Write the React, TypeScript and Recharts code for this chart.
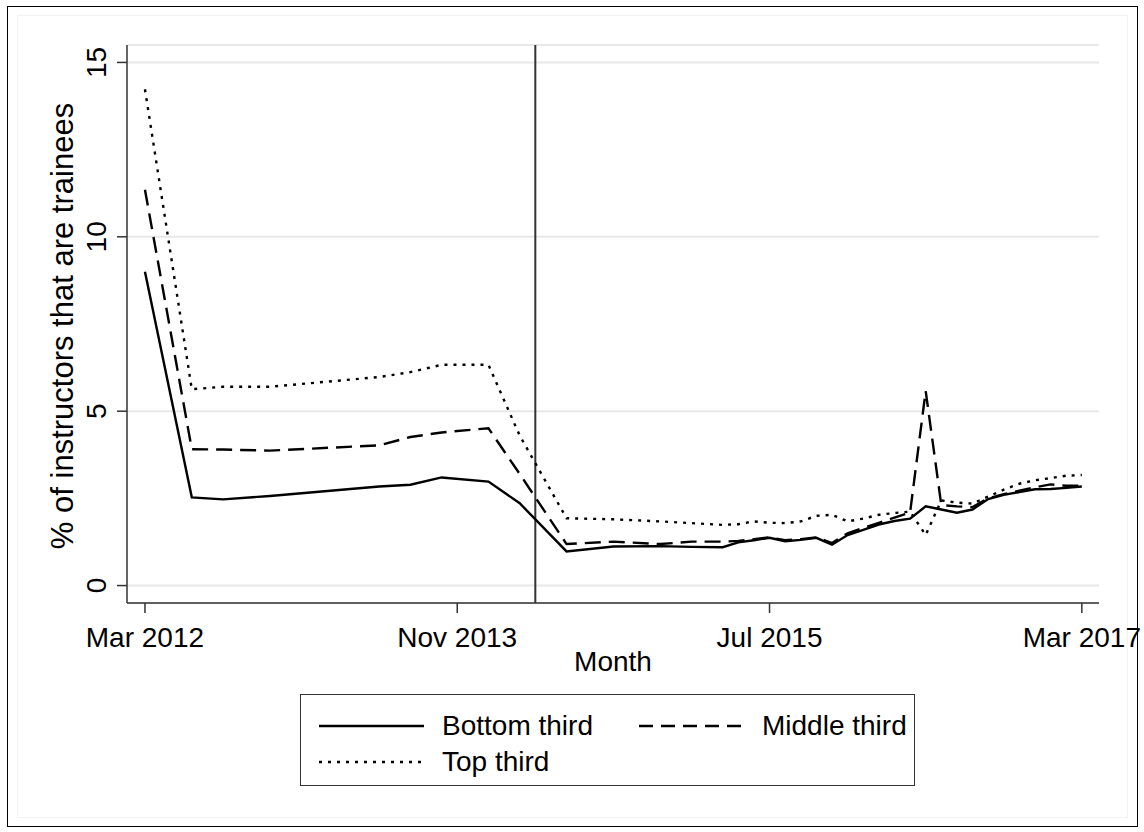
import { LineChart, Line, XAxis, YAxis, CartesianGrid, ReferenceLine } from 'recharts';

// months since Mar 2012 (only months with observations)
const months = [0, 3, 5, 8, 15, 17, 19, 22, 24, 27, 30, 33, 35, 37, 38, 39, 40, 41, 42, 43, 44, 45, 46, 47, 48, 49, 50, 51, 52, 53, 54, 55, 56, 57, 58, 59, 60];

const bottomThird = [9.0, 2.53, 2.47, 2.57, 2.84, 2.89, 3.1, 2.98, 2.36, 0.98, 1.12, 1.13, 1.11, 1.1, 1.24, 1.3, 1.37, 1.27, 1.31, 1.37, 1.17, 1.45, 1.6, 1.75, 1.85, 1.92, 2.27, 2.18, 2.09, 2.18, 2.48, 2.6, 2.68, 2.76, 2.77, 2.8, 2.84];
const middleThird = [11.35, 3.91, 3.9, 3.87, 4.02, 4.26, 4.39, 4.51, 3.2, 1.19, 1.26, 1.19, 1.26, 1.26, 1.28, 1.33, 1.38, 1.3, 1.33, 1.38, 1.22, 1.5, 1.65, 1.8, 1.95, 2.09, 5.58, 2.31, 2.27, 2.25, 2.5, 2.62, 2.72, 2.82, 2.9, 2.86, 2.86];
const topThird = [14.23, 5.63, 5.7, 5.7, 5.98, 6.12, 6.33, 6.33, 4.3, 1.93, 1.9, 1.84, 1.79, 1.74, 1.76, 1.84, 1.8, 1.79, 1.84, 2.0, 2.03, 1.84, 1.92, 2.03, 2.08, 2.12, 1.45, 2.44, 2.38, 2.35, 2.55, 2.75, 2.92, 3.02, 3.08, 3.15, 3.17];

const xTicks = [0, 20, 40, 60];
const xTickLabels = ['Mar 2012', 'Nov 2013', 'Jul 2015', 'Mar 2017'];
const yTicks = [0, 5, 10, 15];
const policyMonth = 25;

const data = months.map((m, i) => ({
  m,
  bottom: bottomThird[i],
  middle: middleThird[i],
  top: topThird[i],
}));

const FONT = 'Liberation Sans, Arial, sans-serif';
const FS = 28;
const AXIS = '#333';

const XTick = ({ x, y, payload }: any) => (
  <text x={x} y={y} dy={32} textAnchor="middle" fontFamily={FONT} fontSize={FS} fill="#000">
    {xTickLabels[xTicks.indexOf(payload.value)]}
  </text>
);

const YTick = ({ y, payload }: any) => (
  <text
    transform={`translate(106, ${y}) rotate(-90)`}
    textAnchor="middle"
    fontFamily={FONT}
    fontSize={FS}
    fill="#000"
  >
    {payload.value}
  </text>
);

const legendItems = [
  { label: 'Bottom third', dash: undefined },
  { label: 'Middle third', dash: '14 8' },
  { label: 'Top third', dash: '3 6' },
];

// legend sits under the plot, outside the recharts svg
const LegendBox = () => (
  <div
    style={{
      position: 'absolute',
      left: 300,
      top: 694,
      width: 615,
      height: 92,
      border: '1.5px solid #333',
      boxSizing: 'border-box',
      background: '#fff',
      fontFamily: FONT,
      fontSize: FS,
    }}
  >
    {legendItems.map((it, i) => {
      const col = i % 2;
      const row = Math.floor(i / 2);
      return (
        <div
          key={it.label}
          style={{ position: 'absolute', left: 18 + col * 320, top: 16 + row * 36, height: 30, display: 'flex', alignItems: 'center' }}
        >
          <svg width={105} height={10}>
            <line x1={0} y1={5} x2={105} y2={5} stroke="#000" strokeWidth={2.5} strokeDasharray={it.dash} />
          </svg>
          <span style={{ marginLeft: 18, lineHeight: '30px', whiteSpace: 'nowrap' }}>{it.label}</span>
        </div>
      );
    })}
  </div>
);

export default function App() {
  return (
    <div style={{ position: 'absolute', left: 0, top: 0, width: 1144, height: 832, background: '#fff' }}>
      <div style={{ position: 'absolute', left: 7, top: 6, width: 1131, height: 821, border: '1.5px solid #000', boxSizing: 'border-box' }} />
      <div style={{ position: 'absolute', left: 17, top: 15, width: 1111, height: 803, border: '1px solid #f2f2f2', boxSizing: 'border-box' }} />
      <div style={{ position: 'absolute', left: 0, top: 0 }}>
        <LineChart width={1144} height={832} data={data} margin={{ top: 45, right: 45, left: 0, bottom: 169 }}>
          <CartesianGrid horizontal vertical={false} stroke="#e8e8e8" strokeWidth={2} />
          <XAxis
            type="number"
            dataKey="m"
            domain={[-1.15, 61.1]}
            ticks={xTicks}
            allowDataOverflow
            height={60}
            tick={<XTick />}
            tickSize={10}
            stroke={AXIS}
            strokeWidth={1.5}
            tickLine={{ stroke: AXIS, strokeWidth: 1.5 }}
            label={(props: any) => {
              const vb = props.viewBox;
              return (
                <text x={vb.x + vb.width / 2} y={671} textAnchor="middle" fontFamily={FONT} fontSize={FS} fill="#000">
                  Month
                </text>
              );
            }}
          />
          <YAxis
            type="number"
            domain={[-0.5, 15.5]}
            ticks={yTicks}
            allowDataOverflow
            width={127}
            tick={<YTick />}
            tickSize={10}
            stroke={AXIS}
            strokeWidth={1.5}
            tickLine={{ stroke: AXIS, strokeWidth: 1.5 }}
            label={() => (
              <text transform="translate(73, 326) rotate(-90)" textAnchor="middle" fontFamily={FONT} fontSize={31} fill="#000">
                % of instructors that are trainees
              </text>
            )}
          />
          <ReferenceLine x={policyMonth} stroke={AXIS} strokeWidth={2} />
          <Line type="linear" dataKey="bottom" stroke="#000" strokeWidth={2.4} dot={false} isAnimationActive={false} />
          <Line type="linear" dataKey="middle" stroke="#000" strokeWidth={2.4} strokeDasharray="16 8" dot={false} isAnimationActive={false} />
          <Line type="linear" dataKey="top" stroke="#000" strokeWidth={2.4} strokeDasharray="3 6" dot={false} isAnimationActive={false} />
        </LineChart>
      </div>
      <LegendBox />
    </div>
  );
}
